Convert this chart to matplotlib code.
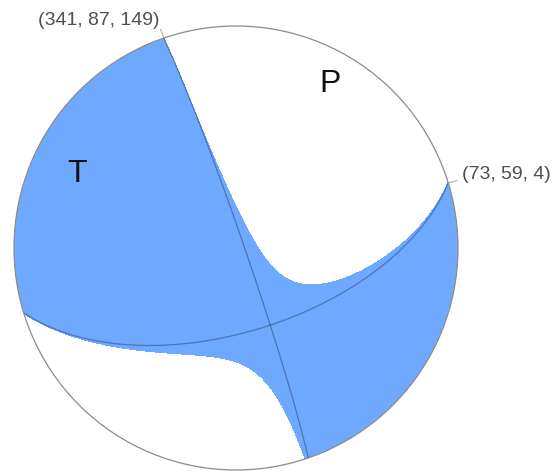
import numpy as np
import matplotlib
import matplotlib.pyplot as plt
from matplotlib.patches import Circle

matplotlib.use('agg')
plt.rcParams['font.family'] = ['Liberation Sans', 'DejaVu Sans']

# nodal planes: (strike, dip, rake) in degrees
plane_1 = (341, 87, 149)
plane_2 = (73, 59, 4)
axis_names = ['T', 'P']

# layout (pixels) and style
W, H = 557, 472
cx, cy, R = 236, 248, 222
blue = '#6fa8ff'
eps = 0.05  # rounding of the fill around the null axis


def fault_vectors(strike, dip, rake):
    # normal and slip vector in (north, east, down)
    s, d, r = np.radians([strike, dip, rake])
    n = np.array([-np.sin(d) * np.sin(s), np.sin(d) * np.cos(s), -np.cos(d)])
    u = np.array([np.cos(r) * np.cos(s) + np.sin(r) * np.cos(d) * np.sin(s),
                  np.cos(r) * np.sin(s) - np.sin(r) * np.cos(d) * np.cos(s),
                  -np.sin(r) * np.sin(d)])
    return n, u


def project(v):
    # lower hemisphere, equal area -> pixel coordinates
    v = np.atleast_2d(np.asarray(v, dtype=float))
    v = np.where(v[:, 2:3] < -1e-9, -v, v)
    theta = np.arccos(np.clip(v[:, 2], -1, 1))
    az = np.arctan2(v[:, 1], v[:, 0])
    r = np.sqrt(2) * np.sin(theta / 2) * R
    return cx + r * np.sin(az), cy - r * np.cos(az)


def nodal_line(strike, dip):
    s, d = np.radians([strike, dip])
    a = np.radians(np.linspace(0, 180, 361))[:, None]
    along = np.array([np.cos(s), np.sin(s), 0.0])
    down = np.array([-np.cos(d) * np.sin(s), np.cos(d) * np.cos(s), np.sin(d)])
    return project(np.cos(a) * along + np.sin(a) * down)


n, u = fault_vectors(*plane_1)
b = np.cross(n, u)
if b[2] < 0:
    b = -b

fig = plt.figure(figsize=(W / 100, H / 100), dpi=100)
ax = fig.add_axes([0, 0, 1, 1])
ax.set_xlim(0, W)
ax.set_ylim(H, 0)
ax.set_aspect('equal')
ax.axis('off')

# white ball
ball = Circle((cx, cy), R, facecolor='white', edgecolor='none', zorder=1)
ax.add_patch(ball)

# compressional quadrants from the P radiation pattern
g = np.linspace(-1.02, 1.02, 1201)
X, Y = np.meshgrid(g, g)
rr = np.hypot(X, Y)
theta = 2 * np.arcsin(np.clip(rr / np.sqrt(2), 0, 1))
az = np.arctan2(X, Y)
vn = np.sin(theta) * np.cos(az)
ve = np.sin(theta) * np.sin(az)
vd = np.cos(theta)
near_null = np.clip(b[0] * vn + b[1] * ve + b[2] * vd, 0, 1) ** 2
amp = (n[0] * vn + n[1] * ve + n[2] * vd) * (u[0] * vn + u[1] * ve + u[2] * vd) + eps * near_null
cs = ax.contourf(cx + R * X, cy - R * Y, amp, levels=[0, amp.max() + 1], colors=[blue], zorder=2)
cs.set_clip_path(ball)

# nodal planes
for strike, dip, rake in [plane_1, plane_2]:
    x, y = nodal_line(strike, dip)
    ax.plot(x, y, color='black', alpha=0.3, lw=0.9, zorder=3)
    a = np.radians(strike)
    ax.plot([cx + R * np.sin(a), cx + (R + 9) * np.sin(a)],
            [cy - R * np.cos(a), cy - (R + 9) * np.cos(a)],
            color='black', alpha=0.3, lw=0.9, zorder=3)
    tx, ty = cx + (R + 14) * np.sin(a), cy - (R + 14) * np.cos(a)
    ax.text(tx, ty, f'({strike}, {dip}, {rake})', fontsize=14, color='#505050',
            ha='left' if tx > cx else 'right', va='baseline', zorder=5)

# outline
ax.add_patch(Circle((cx, cy), R, facecolor='none', edgecolor='#8c8c8c', lw=0.9, zorder=4))

# T and P axes
for name, vec in zip(axis_names, [(n + u) / np.sqrt(2), (n - u) / np.sqrt(2)]):
    x, y = project(vec)
    ax.text(x[0], y[0], name, fontsize=23, color='#111111', ha='center', va='baseline', zorder=5)

fig.savefig('out.png', dpi=100)
